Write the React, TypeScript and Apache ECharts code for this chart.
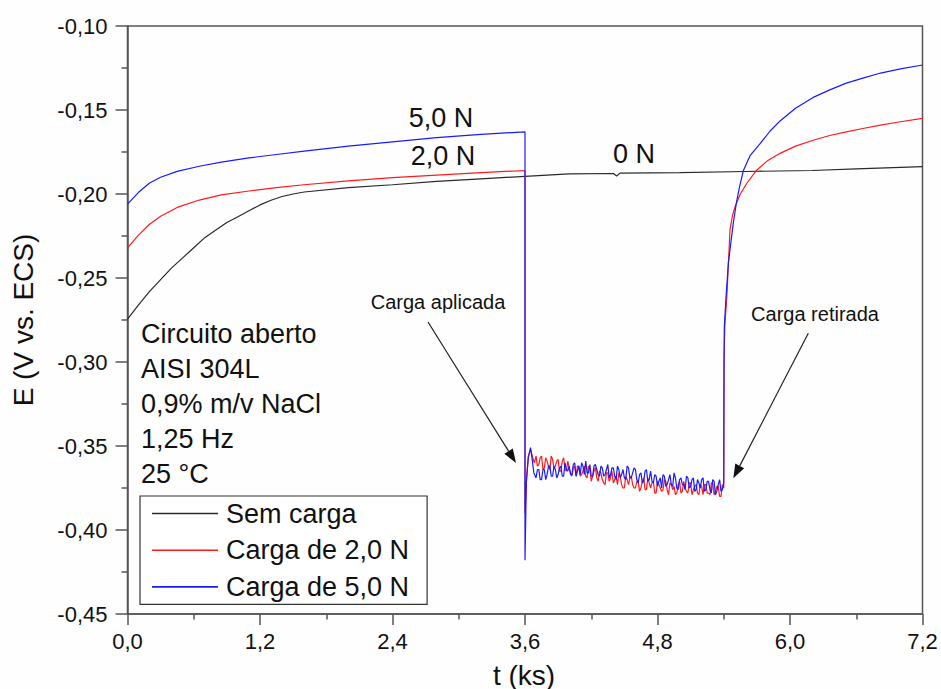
import React, { useEffect, useRef } from "react";
import * as echarts from "echarts";

const FONT = '"Liberation Sans", Arial, Helvetica, sans-serif';

// ---- data (t in ks, E in V vs. ECS) ----
const blackT = [0, 0.1, 0.2, 0.3, 0.4, 0.5, 0.6, 0.7, 0.8, 0.9, 1.0, 1.1, 1.2, 1.3, 1.4, 1.5, 1.6, 2.0, 2.4, 2.8, 3.2, 3.6, 4.0, 4.4, 4.43, 4.46, 5.0, 5.6, 6.2, 6.6, 7.2];
const blackE = [-0.2745, -0.266, -0.258, -0.251, -0.244, -0.238, -0.232, -0.226, -0.2215, -0.217, -0.2135, -0.21, -0.2065, -0.2037, -0.2015, -0.2, -0.1988, -0.1962, -0.1945, -0.1925, -0.191, -0.1895, -0.188, -0.1878, -0.1893, -0.1876, -0.1873, -0.1866, -0.186, -0.185, -0.1837];

const redOpenT = [0, 0.1, 0.2, 0.3, 0.45, 0.65, 0.85, 1.1, 1.35, 1.6, 2.0, 2.4, 2.8, 3.2, 3.6];
const redOpenE = [-0.2321, -0.2245, -0.218, -0.2133, -0.208, -0.2036, -0.2005, -0.1982, -0.1962, -0.1945, -0.1922, -0.1903, -0.1888, -0.1873, -0.186];
const redApplyT = [3.6, 3.615, 3.63, 3.65, 3.67, 3.685];
const redApplyE = [-0.39, -0.368, -0.356, -0.352, -0.357, -0.36];

const blueOpenT = [0, 0.1, 0.2, 0.3, 0.45, 0.65, 0.85, 1.1, 1.35, 1.6, 2.0, 2.4, 2.8, 3.2, 3.6];
const blueOpenE = [-0.206, -0.199, -0.1935, -0.19, -0.1865, -0.1835, -0.181, -0.1785, -0.1765, -0.1745, -0.1715, -0.169, -0.1665, -0.1645, -0.163];
const blueApplyT = [3.6, 3.612, 3.63, 3.65, 3.665, 3.68];
const blueApplyE = [-0.418, -0.372, -0.357, -0.351, -0.358, -0.366];

// loaded period (noisy), main samples
const loadedT = [
  3.7, 3.725, 3.75, 3.775, 3.8, 3.825, 3.85, 3.875, 3.9, 3.925,
  3.95, 3.975, 4.0, 4.025, 4.05, 4.075, 4.1, 4.125, 4.15, 4.175,
  4.2, 4.225, 4.25, 4.275, 4.3, 4.325, 4.35, 4.375, 4.4, 4.425,
  4.45, 4.475, 4.5, 4.525, 4.55, 4.575, 4.6, 4.625, 4.65, 4.675,
  4.7, 4.725, 4.75, 4.775, 4.8, 4.825, 4.85, 4.875, 4.9, 4.925,
  4.95, 4.975, 5.0, 5.025, 5.05, 5.075, 5.1, 5.125, 5.15, 5.175,
  5.2, 5.225, 5.25, 5.275, 5.3, 5.325, 5.35, 5.375, 5.4,
];
const redLoadedE = [
  -0.356, -0.361, -0.356, -0.363, -0.359, -0.364, -0.358, -0.362, -0.358, -0.365,
  -0.357, -0.365, -0.363, -0.368, -0.362, -0.362, -0.368, -0.365, -0.368, -0.362,
  -0.371, -0.365, -0.369, -0.365, -0.37, -0.373, -0.366, -0.369, -0.372, -0.368,
  -0.366, -0.373, -0.375, -0.37, -0.369, -0.373, -0.375, -0.371, -0.375, -0.369,
  -0.376, -0.372, -0.372, -0.378, -0.371, -0.375, -0.376, -0.371, -0.379, -0.373,
  -0.374, -0.378, -0.371, -0.377, -0.375, -0.378, -0.372, -0.376, -0.373, -0.379,
  -0.374, -0.373, -0.378, -0.379, -0.372, -0.377, -0.374, -0.38, -0.375,
];
const blueLoadedE = [
  -0.369, -0.364, -0.37, -0.364, -0.367, -0.362, -0.368, -0.364, -0.367, -0.362,
  -0.368, -0.364, -0.362, -0.367, -0.36, -0.365, -0.367, -0.362, -0.359, -0.366,
  -0.368, -0.362, -0.364, -0.368, -0.363, -0.367, -0.361, -0.367, -0.363, -0.37,
  -0.364, -0.367, -0.369, -0.362, -0.369, -0.366, -0.364, -0.372, -0.366, -0.371,
  -0.364, -0.37, -0.371, -0.367, -0.374, -0.369, -0.367, -0.374, -0.37, -0.373,
  -0.366, -0.375, -0.37, -0.373, -0.376, -0.369, -0.374, -0.369, -0.376, -0.372,
  -0.37, -0.377, -0.371, -0.376, -0.37, -0.379, -0.373, -0.377, -0.372,
];
// loaded period, in-between samples
const loadedMidT = [
  3.7125, 3.7375, 3.7625, 3.7875, 3.8125, 3.8375, 3.8625, 3.8875, 3.9125, 3.9375,
  3.9625, 3.9875, 4.0125, 4.0375, 4.0625, 4.0875, 4.1125, 4.1375, 4.1625, 4.1875,
  4.2125, 4.2375, 4.2625, 4.2875, 4.3125, 4.3375, 4.3625, 4.3875, 4.4125, 4.4375,
  4.4625, 4.4875, 4.5125, 4.5375, 4.5625, 4.5875, 4.6125, 4.6375, 4.6625, 4.6875,
  4.7125, 4.7375, 4.7625, 4.7875, 4.8125, 4.8375, 4.8625, 4.8875, 4.9125, 4.9375,
  4.9625, 4.9875, 5.0125, 5.0375, 5.0625, 5.0875, 5.1125, 5.1375, 5.1625, 5.1875,
  5.2125, 5.2375, 5.2625, 5.2875, 5.3125, 5.3375, 5.3625, 5.3875,
];
const redLoadedMidE = [
  -0.362, -0.357, -0.364, -0.357, -0.362, -0.356, -0.363, -0.359, -0.365, -0.359,
  -0.364, -0.359, -0.366, -0.363, -0.368, -0.362, -0.367, -0.362, -0.369, -0.364,
  -0.368, -0.363, -0.371, -0.366, -0.372, -0.366, -0.371, -0.365, -0.37, -0.373,
  -0.368, -0.375, -0.368, -0.373, -0.368, -0.375, -0.371, -0.377, -0.371, -0.376,
  -0.369, -0.375, -0.371, -0.378, -0.373, -0.377, -0.37, -0.376, -0.372, -0.376,
  -0.379, -0.373, -0.378, -0.371, -0.377, -0.372, -0.379, -0.374, -0.378, -0.373,
  -0.379, -0.373, -0.378, -0.372, -0.379, -0.374, -0.38, -0.373,
];
const blueLoadedMidE = [
  -0.364, -0.37, -0.364, -0.37, -0.362, -0.368, -0.362, -0.369, -0.363, -0.368,
  -0.36, -0.365, -0.367, -0.361, -0.368, -0.362, -0.36, -0.367, -0.366, -0.361,
  -0.368, -0.361, -0.367, -0.362, -0.368, -0.364, -0.369, -0.363, -0.368, -0.362,
  -0.369, -0.364, -0.37, -0.363, -0.369, -0.363, -0.37, -0.367, -0.372, -0.365,
  -0.371, -0.365, -0.372, -0.368, -0.371, -0.375, -0.368, -0.373, -0.367, -0.374,
  -0.369, -0.376, -0.369, -0.373, -0.368, -0.375, -0.37, -0.377, -0.37, -0.375,
  -0.369, -0.376, -0.371, -0.378, -0.371, -0.377, -0.37, -0.376,
];

const redRemoveT = [5.402, 5.41, 5.428, 5.457, 5.48, 5.503, 5.55, 5.609, 5.7, 5.8, 5.91, 6.05, 6.21, 6.36, 6.51, 6.66, 6.82, 7.0, 7.2];
const redRemoveE = [-0.3, -0.278, -0.261, -0.221, -0.2125, -0.2075, -0.2, -0.1936, -0.1857, -0.18, -0.1758, -0.1715, -0.168, -0.1652, -0.163, -0.161, -0.159, -0.157, -0.155];
const blueRemoveT = [5.403, 5.405, 5.42, 5.442, 5.457, 5.487, 5.515, 5.542, 5.578, 5.64, 5.729, 5.82, 5.91, 6.05, 6.21, 6.36, 6.51, 6.66, 6.82, 7.0, 7.2];
const blueRemoveE = [-0.3, -0.279, -0.262, -0.241, -0.233, -0.217, -0.205, -0.196, -0.186, -0.177, -0.17, -0.1625, -0.1565, -0.149, -0.1425, -0.138, -0.134, -0.131, -0.128, -0.1255, -0.1232];

const seriesNames = ["Sem carga", "Carga de 2,0 N", "Carga de 5,0 N"];
const seriesColors = ["#2a2a2a", "#ff1a1a", "#1a1aff"];
const infoLines = ["Circuito aberto", "AISI 304L", "0,9% m/v NaCl", "1,25 Hz", "25 °C"];

const zip = (ts: number[], es: number[]) => ts.map((t, i) => [t, es[i]]);
const interleave = (ts: number[], es: number[], mts: number[], mes: number[]) => {
  const out: number[][] = [];
  ts.forEach((t, i) => {
    out.push([t, es[i]]);
    if (i < mts.length) out.push([mts[i], mes[i]]);
  });
  return out;
};

export default function App() {
  const ref = useRef<HTMLDivElement>(null);
  useEffect(() => {
    if (!ref.current) return;
    const chart = echarts.init(ref.current, null, { renderer: "svg" });
    const blackData = zip(blackT, blackE);
    const redData = [
      ...zip(redOpenT, redOpenE),
      ...zip(redApplyT, redApplyE),
      ...interleave(loadedT, redLoadedE, loadedMidT, redLoadedMidE),
      ...zip(redRemoveT, redRemoveE),
    ];
    const blueData = [
      ...zip(blueOpenT, blueOpenE),
      ...zip(blueApplyT, blueApplyE),
      ...interleave(loadedT, blueLoadedE, loadedMidT, blueLoadedMidE),
      ...zip(blueRemoveT, blueRemoveE),
    ];
    const axisColor = "#555";
    const txt = (text: string, x: number, y: number, size: number, align = "left", extra: any = {}) => ({
      type: "text",
      x,
      y,
      silent: true,
      z: 100,
      ...extra,
      style: {
        text,
        fill: "#111",
        font: `${size}px ${FONT}`,
        fontSize: size,
        fontFamily: FONT,
        align,
        textAlign: align,
        verticalAlign: "middle",
        textVerticalAlign: "middle",
      },
    });
    const arrow = (x1: number, y1: number, x2: number, y2: number) => {
      const dx = x2 - x1, dy = y2 - y1;
      const len = Math.hypot(dx, dy);
      const ux = dx / len, uy = dy / len;
      const hl = 14, hw = 5;
      const bx = x2 - ux * hl, by = y2 - uy * hl;
      return [
        { type: "line", silent: true, z: 100, shape: { x1, y1, x2: bx, y2: by }, style: { stroke: "#222", lineWidth: 1.2 } },
        {
          type: "polygon",
          silent: true,
          z: 100,
          shape: { points: [[x2, y2], [bx - uy * hw, by + ux * hw], [bx + uy * hw, by - ux * hw]] },
          style: { fill: "#111" },
        },
      ];
    };
    const option: any = {
      animation: false,
      backgroundColor: "#fefefe",
      textStyle: { fontFamily: FONT },
      grid: {
        left: 127.5,
        right: 18.5,
        top: 26,
        bottom: 75,
        show: true,
        borderColor: axisColor,
        borderWidth: 1.5,
        outerBoundsMode: "none",
        containLabel: false,
      },
      legend: {
        orient: "vertical",
        left: 140,
        top: 496,
        data: seriesNames,
        icon: "rect",
        itemWidth: 66,
        itemHeight: 1.6,
        itemGap: 9.7,
        padding: [4, 18, 4, 12],
        borderColor: "#333",
        borderWidth: 1.2,
        backgroundColor: "#fff",
        selectedMode: false,
        textStyle: { fontSize: 27, lineHeight: 26, color: "#111", fontFamily: FONT, padding: [0, 0, 0, 3] },
      },
      xAxis: {
        type: "value",
        min: 0,
        max: 7.2,
        interval: 1.2,
        axisLine: { show: true, lineStyle: { color: axisColor, width: 1.5 } },
        axisTick: { show: true, length: 11, lineStyle: { color: axisColor, width: 1.5 } },
        minorTick: { show: true, splitNumber: 2, length: 5.5, lineStyle: { color: axisColor, width: 1.5 } },
        splitLine: { show: false },
        axisLabel: {
          margin: 16,
          fontSize: 22,
          color: "#111",
          fontFamily: FONT,
          formatter: (v: number) => v.toFixed(1).replace(".", ","),
        },
      },
      yAxis: {
        type: "value",
        min: -0.45,
        max: -0.1,
        interval: 0.05,
        axisLine: { show: true, lineStyle: { color: axisColor, width: 1.5 } },
        axisTick: { show: true, length: 12, lineStyle: { color: axisColor, width: 1.5 } },
        minorTick: { show: true, splitNumber: 2, length: 6, lineStyle: { color: axisColor, width: 1.5 } },
        splitLine: { show: false },
        axisLabel: {
          margin: 20,
          fontSize: 22,
          color: "#111",
          fontFamily: FONT,
          formatter: (v: number) => v.toFixed(2).replace(".", ","),
        },
      },
      series: [blackData, redData, blueData].map((d, i) => ({
        type: "line",
        name: seriesNames[i],
        data: d,
        symbol: "none",
        showSymbol: false,
        silent: true,
        lineStyle: { color: seriesColors[i], width: 1.2 },
        itemStyle: { color: seriesColors[i] },
      })),
      graphic: [
        txt("E (V vs. ECS)", 23, 320, 28, "center", { rotation: Math.PI / 2 }),
        txt("t (ks)", 524, 675, 28, "center"),
        ...infoLines.map((s, i) => txt(s, 141, 333.5 + i * 35.1, 27, "left")),
        txt("5,0 N", 441, 117.5, 27, "center"),
        txt("2,0 N", 443, 156, 27, "center"),
        txt("0 N", 634, 153.5, 27, "center"),
        txt("Carga aplicada", 438, 302, 20, "center"),
        txt("Carga retirada", 815, 314, 20, "center"),
        ...arrow(428, 322, 516, 463),
        ...arrow(808.3, 333.3, 733.3, 478.3),
      ],
    };
    chart.setOption(option);
    return () => chart.dispose();
  }, []);
  return (
    <div
      ref={ref}
      style={{ position: "fixed", left: 0, top: 0, width: 941, height: 689, background: "#fefefe" }}
    />
  );
}
